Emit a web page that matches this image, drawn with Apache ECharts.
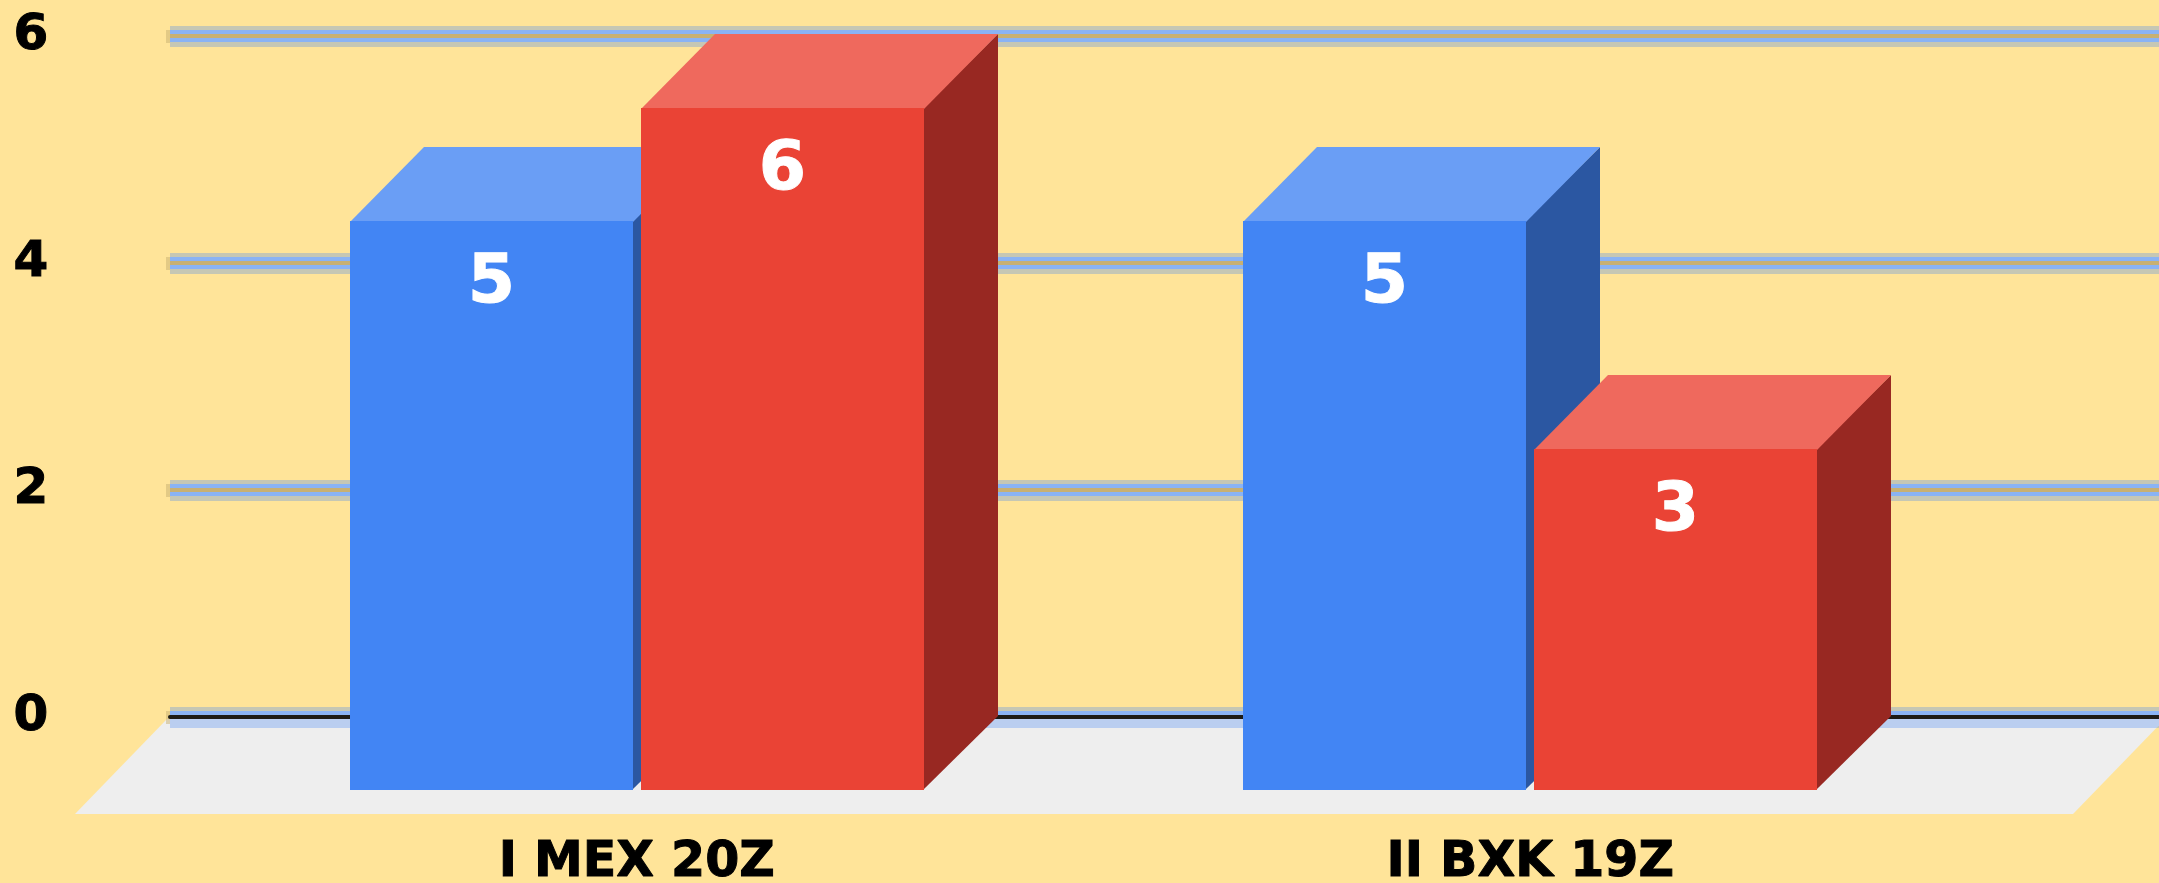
<!DOCTYPE html>
<html><head><meta charset="utf-8">
<style>html,body{margin:0;padding:0;background:#ffe499}#c{width:2159px;height:883px}</style>
<script src="https://cdn.jsdelivr.net/npm/echarts@6/dist/echarts.min.js"></script>
</head><body><div id="c"></div>
<script>
var categories = ['I MEX 20Z', 'II BXK 19Z'];
var seriesA = [5, 5];
var seriesB = [6, 3];
var yMin = 0, yMax = 6, yStep = 2;
var FONT = 'DejaVu Sans';
var DX = 74, DY = 74, BAR = 283, GAP = 8;

function bar3d(front, top, side, sign) {
  return function (params, api) {
    var cat = api.value(0), val = api.value(1);
    var p = api.coord([cat, val]), b = api.coord([cat, 0]);
    var x0 = Math.round(p[0] + (sign < 0 ? -GAP / 2 - BAR : GAP / 2)), x1 = x0 + BAR, yt = Math.round(p[1]), yb = Math.round(b[1]);
    return { type: 'group', children: [
      { type: 'polygon', shape: { points: [[x1 - 1, yt], [x1 + DX, yt - DY], [x1 + DX, yb - DY], [x1 - 1, yb]] }, style: { fill: side } },
      { type: 'polygon', shape: { points: [[x0, yt + 1], [x0 + DX, yt - DY], [x1 + DX, yt - DY], [x1, yt + 1]] }, style: { fill: top } },
      { type: 'rect', shape: { x: x0, y: yt, width: BAR, height: yb - yt }, style: { fill: front } },
      { type: 'text', x: (x0 + x1) / 2, y: yt + 63, style: { text: String(val), fill: '#fff', stroke: '#fff', lineWidth: 1, font: 'bold 68px "' + FONT + '"', align: 'center', verticalAlign: 'middle' } }
    ] };
  };
}
function floorItem(params, api) {
  var o = api.coord([0, 0]), cs = params.coordSys;
  var l = cs.x - 3, yt = o[1] + 2, yb = o[1] + 97, fd = 92, w = 1998;
  return { type: 'polygon', shape: { points: [[l, yt], [l + w, yt], [l + w - fd, yb], [l - fd, yb]] }, style: { fill: '#eeeeee' } };
}
function wallAxis(z, color, width, extra) {
  return Object.assign({ type: 'value', gridIndex: 0, position: 'left', min: yMin, max: yMax, interval: yStep, z: z,
    axisLine: { show: false }, axisTick: { show: false }, axisLabel: { show: false },
    splitLine: { show: true, lineStyle: { color: color, width: width, opacity: 1 } } }, extra || {});
}
var chart = echarts.init(document.getElementById('c'), null, { renderer: 'canvas' });
chart.setOption({
  animation: false,
  backgroundColor: '#ffe499',
  grid: [
    { left: 170, right: 0, top: 36, height: 681, outerBoundsMode: 'none' },
    { left: 190, width: 1787, top: 107.5, height: 682, outerBoundsMode: 'none' }
  ],
  xAxis: [
    { type: 'value', gridIndex: 0, min: 0, max: 1, z: 5, axisLine: { show: true, onZero: false, lineStyle: { color: '#1c1a16', width: 4 } }, axisTick: { show: false }, axisLabel: { show: false }, splitLine: { show: false } },
    { type: 'category', gridIndex: 1, data: categories, z: 7, axisLine: { show: false }, axisTick: { show: false }, splitLine: { show: false },
      axisLabel: { margin: 49, color: '#000', textBorderColor: '#000', textBorderWidth: 1, fontFamily: FONT, fontWeight: 'bold', fontSize: 49 } }
  ],
  yAxis: [
    wallAxis(1, '#a9c8f4', 12),
    wallAxis(3, 'rgba(66,133,244,0.3)', 21, { axisTick: { show: true, length: 4, lineStyle: { color: 'rgba(200,176,114,0.5)', width: 13 } } }),
    wallAxis(4, '#c8b072', 4, { axisLabel: { show: true, margin: 139, align: 'center', color: '#000', textBorderColor: '#000', textBorderWidth: 1, fontFamily: FONT, fontWeight: 'bold', fontSize: 50, padding: [0, 0, 8, 0] } }),
    { type: 'value', gridIndex: 1, position: 'left', min: yMin, max: yMax, interval: yStep, show: false, splitLine: { show: false } }
  ],
  series: [
    { type: 'custom', xAxisIndex: 0, yAxisIndex: 0, z: 2, silent: true, data: [[0, 0]], renderItem: floorItem },
    { type: 'custom', name: 'A', xAxisIndex: 1, yAxisIndex: 3, z: 6, data: seriesA.map(function (v, i) { return [i, v]; }), renderItem: bar3d('#4285f4', '#6a9ef5', '#2b57a2', -1) },
    { type: 'custom', name: 'B', xAxisIndex: 1, yAxisIndex: 3, z: 6, data: seriesB.map(function (v, i) { return [i, v]; }), renderItem: bar3d('#ea4335', '#ef695d', '#982822', 1) }
  ]
});
</script></body></html>
